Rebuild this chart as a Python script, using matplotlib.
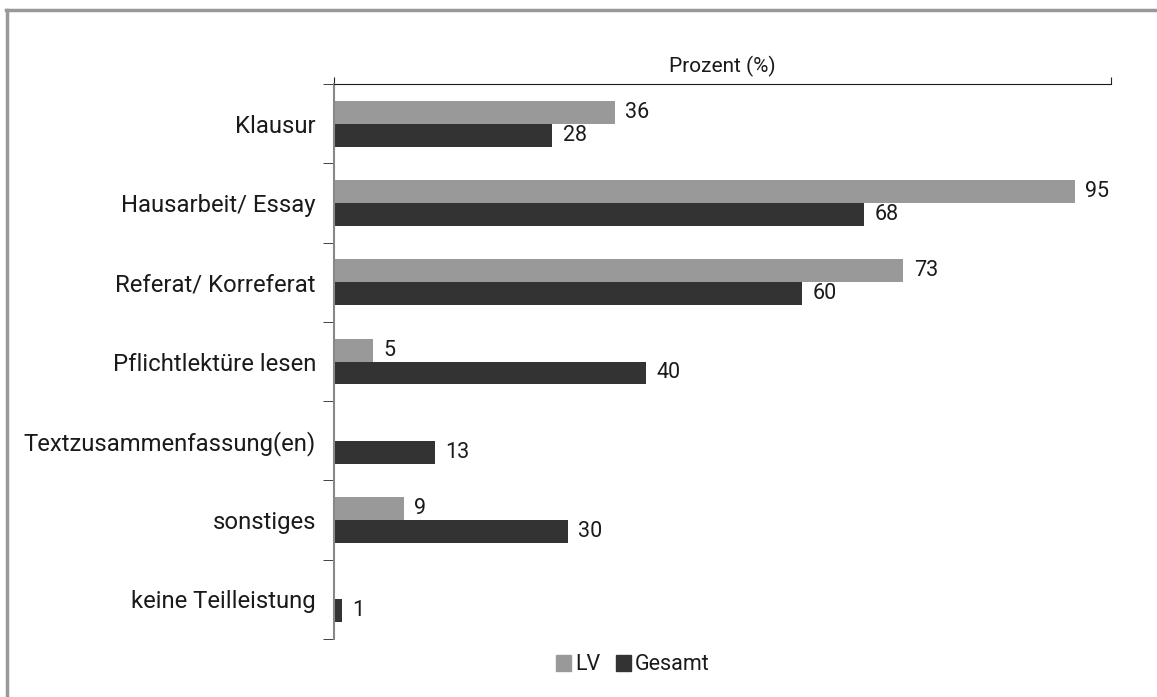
import numpy as np
import matplotlib.pyplot as plt
from matplotlib.patches import Patch
from matplotlib.lines import Line2D

# Anteile der Teilleistungen (Prozent)
kategorien = ["Klausur", "Hausarbeit/ Essay", "Referat/ Korreferat", "Pflichtlektüre lesen",
              "Textzusammenfassung(en)", "sonstiges", "keine Teilleistung"]
lv = [36, 95, 73, 5, 0, 9, 0]
gesamt = [28, 68, 60, 40, 13, 30, 1]

farbe_lv = "#999999"
farbe_gesamt = "#333333"

plt.rcParams['font.family'] = ['Roboto', 'DejaVu Sans']

fig = plt.figure(figsize=(11.57, 6.97), dpi=100)
ax = fig.add_axes([334 / 1157, 58 / 697, (1111 - 334) / 1157, (639 - 84) / 697])

y = np.arange(len(kategorien))
h = 0.29
ax.barh(y - h / 2, lv, height=h, color=farbe_lv)
ax.barh(y + h / 2, gesamt, height=h, color=farbe_gesamt)

# Werte an die Balken schreiben (leere LV-Werte auslassen)
for i in range(len(kategorien)):
    if lv[i] > 0:
        ax.text(lv[i] + 1.3, y[i] - h / 2, str(lv[i]), va='center', ha='left',
                fontsize=15.5, color='#1a1a1a')
    ax.text(gesamt[i] + 1.3, y[i] + h / 2, str(gesamt[i]), va='center', ha='left',
            fontsize=15.5, color='#1a1a1a')

ax.set_xlim(0, 99.6)
ax.set_ylim(len(kategorien) - 0.5, -0.5)

# y-Achse: Beschriftungen in der Mitte, Striche an den Grenzen
ax.set_yticks(y)
ax.set_yticklabels(kategorien, fontsize=17.2, color='#1a1a1a')
ax.tick_params(axis='y', which='major', length=0, pad=13)
ax.set_yticks(np.arange(len(kategorien) + 1) - 0.5, minor=True)
ax.tick_params(axis='y', which='minor', length=8, direction='out', color='#222222')

# x-Achse oben, nur Striche an den Enden
ax.xaxis.tick_top()
ax.set_xticks([0, 99.6])
ax.set_xticklabels([])
ax.tick_params(axis='x', length=5, direction='out', color='#222222')
ax.xaxis.set_label_position('top')
ax.set_xlabel("Prozent (%)", fontsize=15, labelpad=0, color='#1a1a1a')

for s in ['right', 'bottom']:
    ax.spines[s].set_visible(False)
ax.spines['top'].set_color('#1a1a1a')
ax.spines['left'].set_color('#888888')
ax.spines['left'].set_linewidth(1.5)

handles = [Patch(color=farbe_lv, label='LV'), Patch(color=farbe_gesamt, label='Gesamt')]
fig.legend(handles=handles, loc='center', bbox_to_anchor=(633 / 1157, 1 - 665 / 697), ncol=2,
           frameon=False, fontsize=15.5, handlelength=0.7, handleheight=0.7,
           handletextpad=0.2, columnspacing=0.7, labelcolor='#1a1a1a')

# grauer Rahmen (nur oben und links sichtbar)
fig.add_artist(Line2D([7 / 1157, 7 / 1157], [0, 1 - 10 / 697], transform=fig.transFigure,
                      color='#999999', linewidth=2.5))
fig.add_artist(Line2D([6 / 1157, 1], [1 - 10 / 697, 1 - 10 / 697], transform=fig.transFigure,
                      color='#999999', linewidth=2.5))

fig.savefig("out.png", dpi=100)
